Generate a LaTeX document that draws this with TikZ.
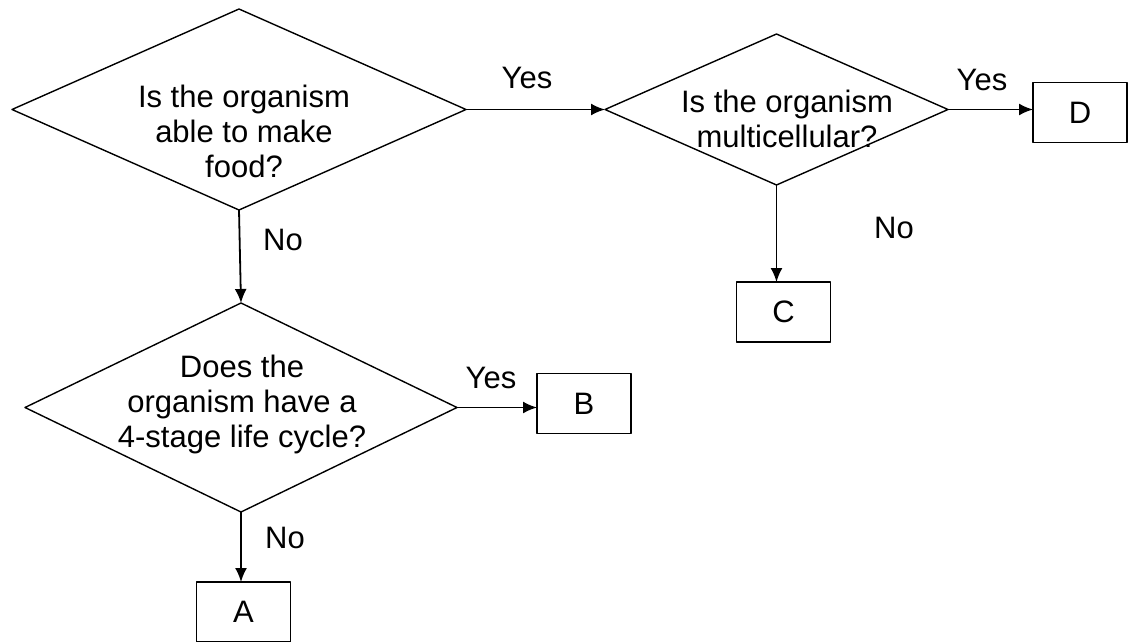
\documentclass[tikz,border=0pt]{standalone}
\usepackage{fontspec}
\setmainfont{Liberation Sans}
\usetikzlibrary{shapes.geometric,arrows.meta}
\begin{document}
\begin{tikzpicture}[x=0.5pt,y=-0.5pt,>={Latex[length=7pt,width=6pt]},line join=round,line width=0.7pt,
	font=\fontsize{15.5}{17.5}\selectfont,
	ques/.style={diamond,draw,inner sep=0pt,outer sep=0pt},
	ans/.style={rectangle,draw,inner sep=0pt,outer sep=0pt,minimum width=47pt,minimum height=30pt},
	qtext/.style={align=center,inner sep=0pt},
	link/.style={->,line width=0.9pt}]
		\useasboundingbox (0,0) rectangle (1129,642);
		% questions
		\node[ques,minimum width=227pt,minimum height=100.5pt] (food) at (239,109.5) {};
		\node[ques,minimum width=171.5pt,minimum height=75.5pt] (multi) at (776.5,109.5) {};
		\node[ques,minimum width=216pt,minimum height=104.5pt] (cycle) at (241,407.5) {};
		\node[qtext] (foodtext) at (244,131) {Is the organism\\able to make\\food?};
		\node[qtext] (multitext) at (787,119) {Is the organism\\multicellular?};
		\node[qtext] (cycletext) at (242,404) {Does the\\organism have a\\4-stage life cycle?};
		% answers
		\node[ans] (A) at (243.5,612) {A};
		\node[ans] (B) at (584,403.5) {B};
		\node[ans] (C) at (783.5,312) {C};
		\node[ans] (D) at (1080,112.5) {D};
		% arrows
		\draw[link] (food.east)--(multi.west);
		\draw[link] (food.south)--(cycle.north);
		\draw[link] (multi.east)--(multi.east-|D.west);
		\draw[link] (multi.south)--(multi.south|-C.north);
		\draw[link] (cycle.east)--(cycle.east-|B.west);
		\draw[link] (cycle.south)--(cycle.south|-A.north);
		% labels
		\node (yes1) at (527,78) {Yes};
		\node (yes2) at (982,80) {Yes};
		\node (yes3) at (491,378) {Yes};
		\node (no1) at (283,240) {No};
		\node (no2) at (894,228) {No};
		\node (no3) at (285,538) {No};
\end{tikzpicture}
\end{document}
